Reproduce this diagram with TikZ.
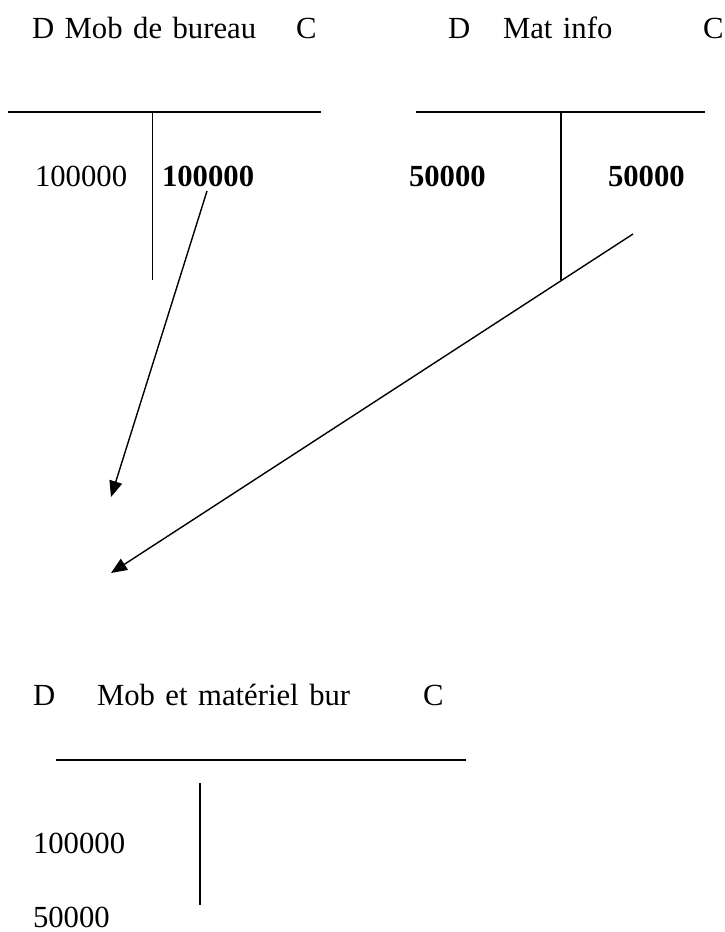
\documentclass[tikz,border=0pt]{standalone}
\usepackage{fontspec}
\setmainfont{Liberation Serif}
\usetikzlibrary{arrows.meta}
\newcommand\reffont{\fontsize{30.7}{36}\selectfont\spaceskip=10.5pt\relax}
\newcommand\reffontb{\fontsize{30.7}{36}\selectfont\bfseries}
\begin{document}
\begin{tikzpicture}[x=1pt,y=-1pt,
  txt/.style={anchor=base west,inner sep=0pt,outer sep=0pt,font=\reffont},
  btxt/.style={txt,font=\reffontb},
  hline/.style={line width=1.7pt},
  vline/.style={line width=1.5pt},
  arr/.style={line width=1.4pt,-{Triangle[length=16pt,width=13pt]}}]
\useasboundingbox (0,0) rectangle (725,932);
% account 1
\node[txt] (t1) at (32,38) {D Mob de bureau};
\node[txt] (c1) at (296,38) {C};
\coordinate (h1a) at (8,112); \coordinate (h1b) at (321,112);
\coordinate (v1a) at (152.5,112); \coordinate (v1b) at (152.5,280);
\draw[hline] (h1a) -- (h1b);
\draw[vline] (v1a) -- (v1b);
\node[txt] (d1) at (35,186) {100000};
\node[btxt] (k1) at (162,186) {100000};
% account 2
\node[txt] (d2l) at (448,38) {D};
\node[txt] (t2) at (503,38) {Mat info};
\node[txt] (c2) at (703,38) {C};
\coordinate (h2a) at (416,112); \coordinate (h2b) at (705,112);
\coordinate (v2a) at (561,112); \coordinate (v2b) at (561,280);
\draw[hline] (h2a) -- (h2b);
\draw[vline] (v2a) -- (v2b);
\node[btxt] (d2) at (409,186) {50000};
\node[btxt] (k2) at (608,186) {50000};
% arrows
\coordinate (s1) at (207,191); \coordinate (e1) at (111,497);
\coordinate (s2) at (633,234); \coordinate (e2) at (111,573);
\draw[arr] (s1) -- (e1);
\draw[arr] (s2) -- (e2);
% account 3
\node[txt] (d3l) at (33,705) {D};
\node[txt] (t3) at (97,705) {Mob et matériel bur};
\node[txt] (c3) at (423,705) {C};
\coordinate (h3a) at (56,760); \coordinate (h3b) at (466,760);
\coordinate (v3a) at (200,783); \coordinate (v3b) at (200,905);
\draw[hline] (h3a) -- (h3b);
\draw[vline] (v3a) -- (v3b);
\node[txt] (d3a) at (33,853) {100000};
\node[txt] (d3b) at (33,927) {50000};
\end{tikzpicture}
\end{document}
